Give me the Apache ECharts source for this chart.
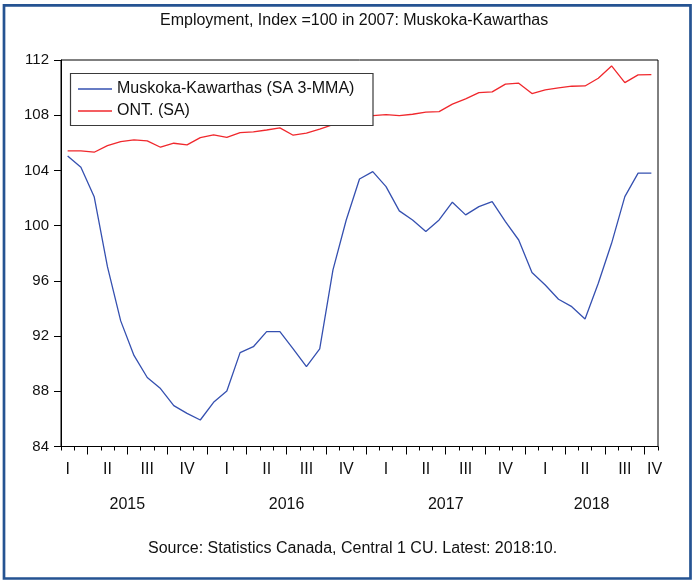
<!DOCTYPE html>
<html>
<head>
<meta charset="utf-8">
<script src="https://cdn.jsdelivr.net/npm/echarts@6/dist/echarts.min.js"></script>
<style>
html,body{margin:0;padding:0;background:#fff;}
#c{width:692px;height:581px;}
</style>
</head>
<body>
<div id="c"></div>
<script>
// ---- data (monthly, Feb 2015 .. Oct 2018) ----
const months = [
  '2015-02','2015-03','2015-04','2015-05','2015-06','2015-07','2015-08','2015-09','2015-10','2015-11','2015-12',
  '2016-01','2016-02','2016-03','2016-04','2016-05','2016-06','2016-07','2016-08','2016-09','2016-10','2016-11','2016-12',
  '2017-01','2017-02','2017-03','2017-04','2017-05','2017-06','2017-07','2017-08','2017-09','2017-10','2017-11','2017-12',
  '2018-01','2018-02','2018-03','2018-04','2018-05','2018-06','2018-07','2018-08','2018-09','2018-10'
];
const muskoka = [
  105.05,104.23,102.1,97.03,93.1,90.6,89.0,88.2,86.96,86.4,85.92,
  87.2,88.02,90.8,91.23,92.32,92.32,91.07,89.78,91.07,96.8,100.41,103.38,
  103.91,102.83,101.07,100.41,99.57,100.41,101.7,100.78,101.38,101.74,100.29,98.96,
  96.6,95.7,94.67,94.13,93.24,95.83,98.72,102.1,103.8,103.8
];
const ontario = [
  105.41,105.41,105.32,105.8,106.09,106.21,106.14,105.68,105.97,105.85,106.38,
  106.57,106.4,106.74,106.79,106.93,107.08,106.55,106.7,106.99,107.32,107.56,107.8,
  107.97,108.05,107.97,108.07,108.22,108.26,108.8,109.18,109.64,109.69,110.25,110.32,
  109.57,109.83,109.98,110.1,110.12,110.68,111.57,110.36,110.92,110.94
];
const seriesNames = ['Muskoka-Kawarthas (SA 3-MMA)', 'ONT. (SA)'];
const years = [2015, 2016, 2017, 2018];
const quarterNames = ['I', 'II', 'III', 'IV'];
const yTicks = { min: 84, max: 112, interval: 4 };
const titleText = 'Employment, Index =100 in 2007: Muskoka-Kawarthas';
const sourceText = 'Source: Statistics Canada, Central 1 CU. Latest: 2018:10.';

// ---- derived axis positions (in month units from start of first month) ----
const N = months.length;
const firstYear = +months[0].slice(0, 4);
const firstMonth = +months[0].slice(5, 7); // 1-based
function monthOffset(y, m) { return (y - firstYear) * 12 + (m - firstMonth); }

const qLabelPos = [], qLabelMap = {}, qTickPos = [];
years.forEach(y => {
  for (let q = 0; q < 4; q++) {
    const s = monthOffset(y, q * 3 + 1);
    let mid = Math.min(s + 1.5, N - 0.25);
    if (mid < 0) continue;
    qLabelPos.push(mid); qLabelMap[mid.toFixed(3)] = quarterNames[q];
    if (s > 0 && s < N) qTickPos.push(s);
  }
});
const yLabelPos = [], yLabelMap = {};
years.forEach(y => {
  const s = monthOffset(y, 1);
  let mid = Math.min(s + 6, (Math.max(s, 0) + N) / 2);
  yLabelPos.push(mid); yLabelMap[mid.toFixed(3)] = String(y);
});

const FONT = 'Liberation Sans, Arial, sans-serif';
const chart = echarts.init(document.getElementById('c'), null, { renderer: 'canvas' });
chart.setOption({
  animation: false,
  backgroundColor: '#fff',
  title: [
    { text: titleText, left: 160, top: 13, padding: 0,
      textStyle: { fontFamily: FONT, fontSize: 16, fontWeight: 'normal', color: '#111' } },
    { text: sourceText, left: 148, top: 541, padding: 0,
      textStyle: { fontFamily: FONT, fontSize: 16, fontWeight: 'normal', color: '#111' } }
  ],
  grid: { left: 61, top: 60, right: 34, bottom: 134.5, show: true, borderColor: '#000', borderWidth: 1, backgroundColor: 'transparent' },
  legend: {
    data: seriesNames, orient: 'vertical', left: 78, top: 81, padding: 0,
    icon: 'rect', itemWidth: 34, itemHeight: 1.3, itemGap: 6,
    textStyle: { fontFamily: FONT, fontSize: 16, color: '#111', lineHeight: 16 },
    z: 10
  },
  xAxis: [
    { type: 'category', data: months, boundaryGap: true,
      axisLine: { lineStyle: { color: '#000', width: 1 } },
      axisTick: { show: true, interval: 0, length: 4, lineStyle: { color: '#000' } },
      axisLabel: { show: false }, splitLine: { show: false } },
    { type: 'value', min: 0, max: N, position: 'bottom',
      axisLine: { show: false }, splitLine: { show: false },
      axisTick: { show: true, customValues: qTickPos, length: 8, lineStyle: { color: '#000' } },
      axisLabel: { customValues: qLabelPos, margin: 15, fontFamily: FONT, fontSize: 16, color: '#111',
        formatter: v => qLabelMap[(+v).toFixed(3)] || '' } },
    { type: 'value', min: 0, max: N, position: 'bottom',
      axisLine: { show: false }, splitLine: { show: false }, axisTick: { show: false },
      axisLabel: { customValues: yLabelPos, margin: 50, fontFamily: FONT, fontSize: 16, color: '#111',
        formatter: v => yLabelMap[(+v).toFixed(3)] || '' } }
  ],
  yAxis: {
    type: 'value', min: yTicks.min, max: yTicks.max, interval: yTicks.interval,
    axisLine: { show: true, lineStyle: { color: '#000' } },
    axisTick: { show: true, length: 7, lineStyle: { color: '#000' } },
    axisLabel: { margin: 12, fontFamily: FONT, fontSize: 15, color: '#111' },
    splitLine: { show: false }
  },
  series: [
    { name: seriesNames[0], type: 'line', data: muskoka, xAxisIndex: 0, symbol: 'none',
      lineStyle: { color: '#3550b0', width: 1.3 }, itemStyle: { color: '#3550b0' } },
    { name: seriesNames[1], type: 'line', data: ontario, xAxisIndex: 0, symbol: 'none',
      lineStyle: { color: '#f0282d', width: 1.3 }, itemStyle: { color: '#f0282d' } }
  ],
  graphic: [
    { type: 'rect', z: 5, shape: { x: 70.5, y: 73.5, width: 302.5, height: 52 },
      style: { fill: '#fff', stroke: '#3a3a3a', lineWidth: 1.2 } },
    { type: 'rect', z: 20, silent: true, shape: { x: 4, y: 5.3, width: 686.5, height: 573.2 },
      style: { fill: 'none', stroke: '#255392', lineWidth: 2.7 } }
  ]
});
</script>
</body>
</html>
